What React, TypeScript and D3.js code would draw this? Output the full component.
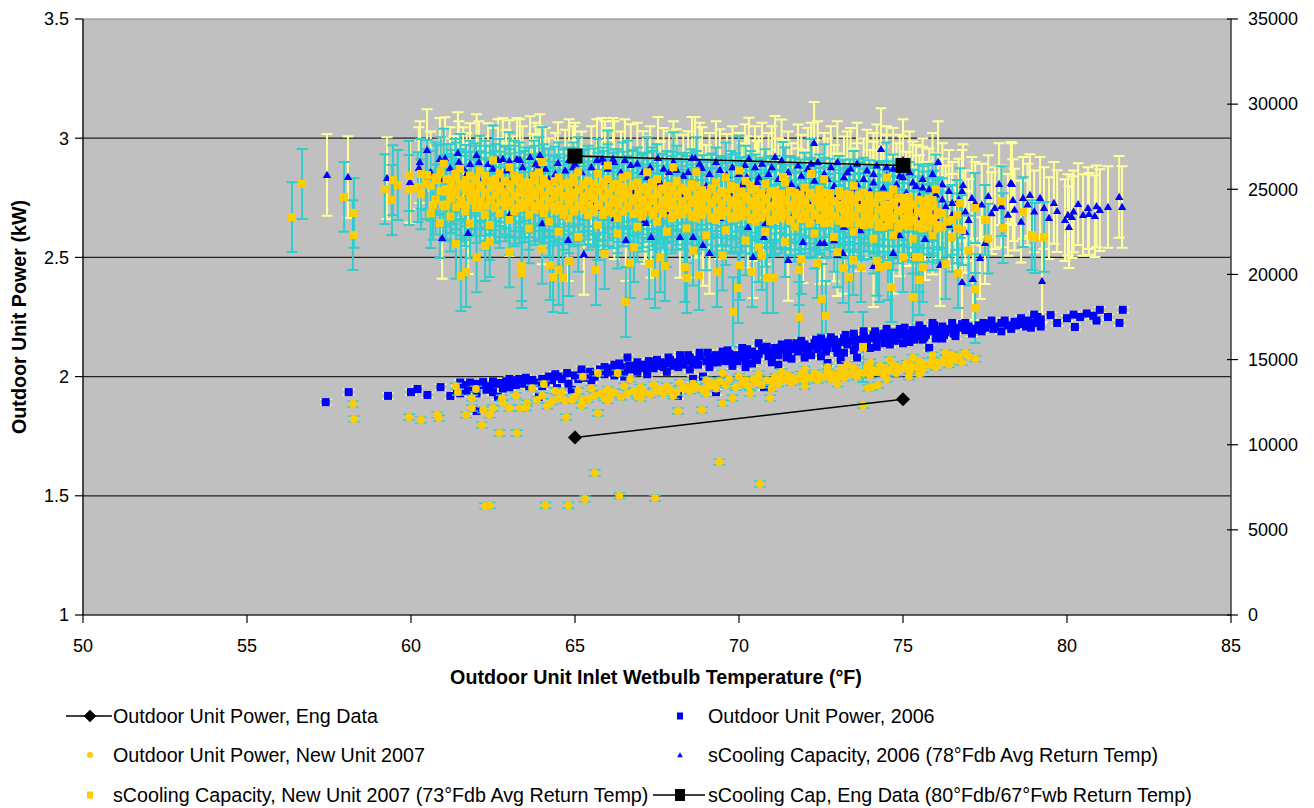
import React, { useEffect, useRef } from 'react';
import * as d3 from 'd3';

// axis ticks
const xTicks = [50, 55, 60, 65, 70, 75, 80, 85];
const yLeftTicks = [1, 1.5, 2, 2.5, 3, 3.5];
const yRightTicks = [0, 5000, 10000, 15000, 20000, 25000, 30000, 35000];
const gridValues = [1.5, 2, 2.5, 3];

// Outdoor Unit Power, Eng Data (kW)
const engPower: [number, number][] = [[65, 1.745], [75, 1.905]];
// sCooling Cap, Eng Data (Btu/h, right axis)
const engCap: [number, number][] = [[65, 26950], [75, 26400]];

// Outdoor Unit Power, 2006 (kW)
const power2006: [number, number][] = [
  [57.4, 1.893], [58.1, 1.935], [59.3, 1.919], [60.0, 1.935], [60.2, 1.948], [60.5, 1.923], [60.9, 1.956], [61.2, 1.919],
  [61.4, 1.95], [61.5, 1.93], [61.6, 1.965], [61.7, 1.94], [61.8, 1.975], [61.9, 1.95], [62.0, 1.93], [62.0, 1.856],
  [62.1, 1.965], [62.2, 1.977], [62.3, 1.945], [62.4, 1.96], [62.5, 1.935], [62.6, 1.97], [62.65, 1.915], [62.7, 1.973],
  [62.8, 1.95], [62.9, 1.98], [63.0, 1.955], [63.1, 1.985], [63.2, 1.965], [63.3, 1.99], [63.4, 1.97], [63.5, 1.98],
  [63.6, 1.96], [63.7, 1.986], [63.8, 1.975], [63.9, 1.915], [64.0, 1.99], [64.1, 1.975], [64.2, 2.0], [64.3, 1.985],
  [64.45, 1.952], [64.5, 2.0], [64.6, 1.99], [64.76, 2.015], [64.9, 1.944], [65.0, 2.005], [65.1, 1.99], [65.2, 2.01],
  [65.3, 1.995], [65.46, 2.02], [65.6, 2.0], [65.76, 2.03], [65.9, 2.01], [66.0, 2.02], [66.1, 2.035], [66.2, 2.005],
  [66.3, 2.025], [66.4, 2.04], [66.5, 2.015], [66.6, 2.08], [66.7, 2.03], [66.8, 2.045], [66.9, 2.02], [67.0, 2.04],
  [67.1, 2.05], [67.2, 2.03], [67.3, 2.055], [67.4, 2.035], [67.5, 2.045], [67.6, 2.06], [67.7, 2.04], [67.8, 2.055],
  [67.9, 2.07], [68.0, 2.045], [68.1, 2.06], [68.14, 1.919], [68.2, 2.075], [68.3, 2.05], [68.4, 2.065], [68.5, 2.08],
  [68.6, 2.055], [68.7, 2.07], [68.8, 2.085], [68.9, 2.0], [69.0, 2.065], [69.1, 2.08], [69.2, 2.06], [69.3, 1.935],
  [69.3, 2.09], [69.4, 2.07], [69.5, 2.085], [69.6, 2.065], [69.7, 2.095], [69.8, 2.075], [69.9, 2.09], [70.0, 2.08],
  [70.1, 2.1], [70.2, 2.07], [70.2, 2.04], [70.3, 2.09], [70.4, 2.105], [70.5, 2.08], [70.6, 2.14], [70.6, 2.095],
  [70.76, 1.956], [70.8, 2.11], [70.9, 2.085], [71.0, 2.1], [71.0, 2.06], [71.1, 2.12], [71.2, 2.09], [71.3, 2.11],
  [71.4, 2.125], [71.5, 2.1], [71.5, 2.14], [71.6, 2.115], [71.7, 2.13], [71.8, 2.105], [71.9, 2.12], [72.0, 2.135],
  [72.0, 2.08], [72.1, 2.11], [72.2, 2.125], [72.3, 2.14], [72.4, 2.115], [72.5, 2.13], [72.5, 2.16], [72.6, 2.145],
  [72.7, 2.057], [72.7, 2.12], [72.8, 2.14], [72.9, 2.155], [73.0, 2.13], [73.0, 2.1], [73.1, 2.07], [73.1, 2.145],
  [73.2, 2.16], [73.3, 2.135], [73.4, 2.15], [73.5, 2.165], [73.5, 2.18], [73.6, 2.14], [73.7, 2.155], [73.8, 2.17],
  [73.9, 2.145], [74.0, 2.16], [74.0, 2.12], [74.1, 2.175], [74.2, 2.15], [74.3, 2.165], [74.4, 2.18], [74.5, 2.155],
  [74.5, 2.2], [74.6, 2.17], [74.7, 2.185], [74.8, 2.16], [74.9, 2.175], [75.0, 2.19], [75.0, 2.14], [75.1, 2.165],
  [75.2, 2.18], [75.3, 2.195], [75.4, 2.17], [75.5, 2.185], [75.5, 2.215], [75.6, 2.2], [75.7, 2.175], [75.8, 2.19],
  [75.9, 2.205], [76.0, 2.18], [76.0, 2.16], [76.1, 2.195], [76.2, 2.21], [76.3, 2.185], [76.4, 2.2], [76.5, 2.215],
  [76.5, 2.225], [76.6, 2.19], [76.7, 2.205], [76.8, 2.22], [76.9, 2.195], [77.0, 2.21], [77.2, 2.2], [77.3, 2.215],
  [77.5, 2.205], [77.6, 2.22], [77.8, 2.21], [78.0, 2.225], [78.2, 2.215], [78.4, 2.23], [78.6, 2.22], [78.8, 2.235],
  [79.0, 2.225], [79.2, 2.24], [79.5, 2.258], [79.7, 2.225], [80.0, 2.245], [80.24, 2.208], [80.4, 2.25], [80.6, 2.265],
  [80.8, 2.255], [81.0, 2.28], [81.25, 2.25], [81.6, 2.225], [81.7, 2.28],
  [61.5, 1.975], [62.0, 1.97], [62.5, 1.98], [63.0, 1.99], [63.5, 1.995], [64.0, 1.96], [64.4, 2.01], [64.8, 1.97],
  [65.2, 2.03], [65.5, 1.985], [65.9, 2.04], [66.2, 2.05], [66.5, 2.0], [66.9, 2.06], [67.2, 2.01], [67.5, 2.07],
  [67.8, 2.02], [68.2, 2.09], [68.5, 2.03], [68.8, 2.1], [69.1, 2.04], [69.5, 2.105], [69.8, 2.045], [70.1, 2.12],
  [70.4, 2.055], [70.7, 2.12], [71.0, 2.08], [71.3, 2.135], [71.6, 2.075], [71.9, 2.15], [72.2, 2.09], [72.5, 2.085],
  [72.8, 2.165], [73.2, 2.1], [73.5, 2.11], [73.8, 2.19], [74.2, 2.125], [74.6, 2.135], [74.9, 2.2], [75.2, 2.145],
  [75.6, 2.155], [75.9, 2.225], [76.2, 2.16], [76.6, 2.17], [76.9, 2.225], [77.1, 2.18], [77.4, 2.19], [77.7, 2.235],
  [78.0, 2.19], [78.3, 2.2], [78.6, 2.245], [78.9, 2.205], [79.2, 2.21], [79.0, 2.26], [80.2, 2.26], [80.9, 2.235],
  [71.2, 2.05], [73.6, 2.08], [75.8, 2.12], [68.6, 1.99],
  [66.05, 2.03], [66.35, 2.055], [66.65, 2.045], [66.95, 2.035], [67.25, 2.065], [67.55, 2.055], [67.85, 2.08], [68.15, 2.04],
  [68.45, 2.09], [68.75, 2.05], [69.05, 2.1], [69.35, 2.06], [69.65, 2.11], [69.95, 2.065], [70.25, 2.115], [70.55, 2.07],
  [70.85, 2.125], [71.15, 2.09], [71.45, 2.08], [71.75, 2.14], [72.05, 2.1], [72.35, 2.155], [72.65, 2.105], [72.95, 2.12],
  [73.25, 2.175], [73.55, 2.125], [73.85, 2.135], [74.15, 2.19], [74.45, 2.14], [74.75, 2.15], [75.05, 2.205], [75.35, 2.155],
  [75.65, 2.165], [75.95, 2.215], [76.25, 2.175], [76.55, 2.18], [76.85, 2.21], [77.15, 2.195], [77.45, 2.225], [77.75, 2.2],
  [78.1, 2.235], [78.45, 2.215], [78.75, 2.21], [79.1, 2.25],
];

// Outdoor Unit Power, New Unit 2007 (kW)
const power2007: [number, number][] = [
  [58.23, 1.885], [58.26, 1.822], [59.94, 1.83], [60.3, 1.818], [60.8, 1.84], [60.85, 1.826], [61.37, 1.96], [61.43, 1.935],
  [61.68, 1.84], [61.86, 1.868], [61.86, 1.91], [61.98, 1.948], [62.16, 1.797], [62.2, 1.86], [62.4, 1.84], [62.5, 1.868],
  [62.7, 1.763], [62.77, 1.91], [63.0, 1.868], [63.23, 1.763], [63.32, 1.868], [63.54, 1.889], [63.69, 1.952], [63.84, 1.902],
  [64.05, 1.969], [64.15, 1.877], [64.73, 1.83], [64.91, 1.902], [65.24, 2.0], [65.24, 1.902], [65.7, 1.847], [65.7, 2.015],
  [66.3, 2.015], [66.68, 1.99], [64.3, 1.895], [64.5, 1.91], [64.7, 1.9], [65.0, 1.915], [65.4, 1.905], [65.6, 1.92],
  [65.9, 1.91], [66.1, 1.925], [66.4, 1.915], [66.6, 1.93], [66.9, 1.92], [67.1, 1.935], [67.3, 1.925], [67.5, 1.94],
  [67.7, 1.93], [67.9, 1.945], [68.1, 1.935], [68.14, 1.856], [68.3, 1.95], [68.5, 1.94], [68.7, 1.955], [68.87, 1.86],
  [68.9, 1.945], [69.1, 1.96], [69.3, 1.95], [69.5, 1.889], [69.5, 2.015], [69.6, 1.965], [69.8, 1.91], [69.9, 1.955],
  [70.0, 2.0], [70.1, 1.97], [70.34, 1.93], [70.3, 1.96], [70.5, 1.975], [70.6, 2.01], [70.7, 1.965], [70.95, 1.91],
  [71.0, 1.98], [71.0, 1.95], [71.2, 1.97], [71.3, 2.02], [71.4, 1.985], [71.6, 1.975], [71.8, 1.99], [72.0, 1.98],
  [72.0, 2.03], [72.0, 1.96], [72.2, 1.995], [72.4, 1.985], [72.6, 2.0], [72.7, 2.04], [72.8, 1.99], [73.0, 2.005],
  [73.0, 1.97], [73.2, 1.995], [73.3, 2.05], [73.4, 2.01], [73.6, 2.0], [73.78, 1.88], [73.8, 2.015], [73.93, 1.952],
  [74.05, 1.956], [74.24, 1.965], [74.0, 2.005], [74.0, 2.06], [74.2, 2.02], [74.4, 2.01], [74.5, 1.99], [74.6, 2.025],
  [74.6, 2.07], [74.8, 2.015], [75.0, 2.035], [75.18, 2.0], [75.2, 2.025], [75.3, 2.08], [75.4, 2.04], [75.5, 2.01],
  [75.6, 2.03], [75.8, 2.05], [75.9, 2.09], [76.0, 2.04], [76.2, 2.06], [76.3, 2.1], [76.4, 2.05], [76.5, 2.09],
  [76.6, 2.07], [76.8, 2.06], [76.9, 2.1], [77.0, 2.085], [77.2, 2.075],
  [64.0, 1.92], [64.6, 1.935], [65.1, 1.94], [65.5, 1.95], [66.0, 1.945], [66.5, 1.96], [67.0, 1.955], [67.4, 1.965],
  [67.8, 1.96], [68.2, 1.975], [68.6, 1.97], [69.0, 1.985], [69.4, 1.98], [69.7, 1.99], [70.2, 1.985], [70.6, 1.995],
  [71.1, 2.0], [71.5, 2.005], [71.9, 2.01], [72.3, 2.015], [72.7, 2.02], [73.1, 2.03], [73.5, 2.035], [73.9, 2.04],
  [74.3, 2.045], [74.7, 2.05], [75.1, 2.055], [75.5, 2.065], [75.9, 2.07], [76.3, 2.08], [76.7, 2.085], [67.0, 1.91],
  [68.0, 1.92], [69.0, 1.93], [66.0, 1.9], [65.2, 1.88], [63.5, 1.87], [62.8, 1.89], [63.2, 1.92], [64.4, 1.94],
  [70.45, 1.99], [70.85, 1.985], [71.25, 1.99], [71.65, 1.995], [72.05, 2.0], [72.45, 2.005], [72.85, 2.01], [73.25, 2.015],
  [73.65, 2.02], [74.05, 2.03], [74.45, 2.035], [74.85, 2.04], [75.25, 2.045], [75.65, 2.05], [76.05, 2.06], [76.45, 2.065],
  [69.2, 1.97], [68.4, 1.955], [67.6, 1.945], [66.8, 1.94], [66.2, 1.935], [65.8, 1.93],
  [65.6, 1.596], [69.4, 1.642], [66.35, 1.5], [67.44, 1.49], [62.26, 1.457], [62.4, 1.46], [64.1, 1.46], [64.8, 1.46],
  [65.3, 1.487], [70.64, 1.55],
];

// sCooling Capacity, 2006 (Btu/h, right axis)
const cap2006: [number, number][] = [
  [57.44, 25840], [58.08, 25720], [59.27, 25660], [59.97, 25430], [60.27, 26600], [60.49, 27300], [60.24, 26250], [60.88, 26780],
  [61.04, 26830], [61.19, 26250], [61.3, 25720], [61.43, 27130], [61.46, 26600], [61.59, 26250], [60.95, 22140], [61.74, 22430],
  [61.8, 26480], [62.0, 27010], [62.07, 26600], [62.35, 26480], [62.68, 25600], [62.65, 26720], [62.8, 26780], [63.0, 26660],
  [63.23, 26780], [63.32, 26720], [63.63, 26890], [63.93, 27010], [63.87, 26300], [63.72, 25840], [64.48, 26540], [64.82, 26720],
  [64.94, 26300], [65.67, 26720], [65.82, 26780], [65.91, 26600], [66.16, 26780], [66.19, 26600], [66.52, 26720], [66.7, 26420],
  [67.07, 26010], [67.53, 26840], [67.29, 26300], [67.87, 26010], [68.1, 26130], [68.45, 26010], [68.57, 26840], [68.66, 26840],
  [68.87, 26250], [69.42, 26130], [69.63, 25840], [70.18, 26420], [70.49, 26300], [70.24, 25720], [70.55, 25430],
  [64.79, 22020], [65.27, 21200], [66.55, 22020], [67.16, 23020], [67.13, 23190], [67.32, 22200], [68.2, 22200], [68.6, 22200],
  [68.9, 21730], [69.1, 21260], [69.42, 23310], [70.43, 21020], [70.27, 22780], [70.43, 23190],
  [62.9, 25300], [63.5, 24700], [64.2, 25600], [65.0, 25100], [65.5, 24300], [66.0, 25500], [66.8, 24900], [67.6, 25400],
  [68.3, 24600], [69.0, 25200], [69.8, 24800], [70.1, 25300], [63.0, 23500], [64.0, 23000], [66.2, 23300], [67.8, 23700],
  [69.5, 23900],
  [70.7, 26500], [70.9, 25900], [71.0, 26300], [71.2, 25600], [71.3, 26700], [71.5, 26000], [71.6, 25300], [71.8, 26400],
  [71.9, 25800], [72.0, 24900], [72.1, 26200], [72.3, 25500], [72.4, 26600], [72.5, 24600], [72.6, 25900], [72.8, 26300],
  [72.9, 25200], [73.0, 26600], [73.1, 24400], [73.2, 25700], [73.4, 26200], [73.5, 25000], [73.6, 26500], [73.7, 24300],
  [73.8, 25600], [73.9, 26100], [74.0, 24900], [74.1, 25400], [74.2, 26400], [74.3, 23900], [74.4, 25100], [74.5, 25800],
  [74.6, 24500], [74.7, 26200], [74.8, 25300], [74.9, 24100], [75.0, 25700], [75.1, 24800], [75.2, 26000], [75.3, 23800],
  [75.4, 25200], [75.5, 24600], [75.6, 25600], [75.7, 24200], [75.8, 25000], [75.9, 23600], [76.0, 24700], [76.2, 25300],
  [76.3, 24000], [76.4, 24900], [76.5, 23500], [76.7, 24400], [76.9, 23700], [77.0, 23200], [76.6, 22700], [75.9, 22400],
  [75.2, 22900], [74.5, 23200], [73.8, 23400], [73.2, 22800], [72.4, 23300], [71.7, 23600], [71.0, 24200], [70.8, 23000],
  [72.29, 27720], [74.33, 27360], [76.07, 26600], [75.0, 26720], [76.83, 25250], [77.93, 25310], [78.32, 25310], [77.1, 24490],
  [77.4, 24100], [77.7, 23600], [78.35, 24370], [78.66, 24490], [78.87, 24660], [79.18, 24490], [77.8, 23900], [78.2, 23500],
  [78.6, 23100], [79.0, 23700], [79.45, 23310], [79.7, 23720], [79.94, 23190], [80.03, 23490], [80.15, 23370], [80.06, 22780],
  [80.34, 24130], [80.49, 23490], [80.64, 23900], [80.67, 23550], [80.85, 23430], [81.0, 23780], [81.25, 23960], [81.59, 24550],
  [81.68, 23960], [78.29, 25370], [79.24, 19610], [76.13, 20550], [76.8, 19550], [77.13, 19730], [77.35, 20960], [77.5, 21840],
  [74.1, 20490], [74.7, 21260], [75.67, 22080], [73.17, 21260], [73.0, 21140], [72.47, 21840], [72.6, 21840], [71.95, 21900],
  [71.5, 20850], [70.76, 22200],
  [60.6, 26000], [61.0, 25600], [61.7, 25900], [62.2, 25700], [62.5, 26200], [62.9, 26100], [63.1, 25700], [63.4, 26300],
  [63.8, 26500], [64.1, 26200], [64.4, 25900], [64.7, 26100], [65.0, 26500], [65.2, 26000], [65.5, 26300], [66.0, 26200],
  [66.4, 26000], [66.9, 26500], [67.2, 25700], [67.7, 26200], [68.0, 26600], [68.3, 25800], [68.8, 26500], [69.1, 25900],
  [69.3, 26600], [69.8, 26300], [70.0, 25900], [70.3, 26800], [70.6, 25700], [71.1, 26900], [71.4, 25500], [71.8, 25000],
  [72.2, 26500], [72.7, 25600], [73.3, 26000], [73.6, 25300], [74.1, 25900], [74.5, 26300], [74.9, 25800], [75.3, 25400],
  [75.6, 25100], [75.9, 25900], [76.2, 24400], [76.5, 24200], [76.8, 24900], [77.2, 24200], [77.6, 24600], [78.0, 24000],
  [78.4, 23800], [78.8, 24100], [79.3, 23900], [79.6, 24200], [80.2, 23700], [80.9, 24000], [71.2, 24500], [71.6, 24000],
  [72.1, 24300], [72.7, 23900], [73.0, 24700], [73.4, 23600], [74.0, 23700], [74.6, 23900], [75.0, 23400], [75.5, 23200],
  [76.0, 23300], [76.4, 22900], [76.9, 22500], [73.7, 22600], [72.9, 22000], [74.9, 22300], [70.5, 24600], [70.9, 24900],
  [61.5, 24000], [62.3, 24600], [64.6, 24800], [65.8, 23900], [67.3, 24200], [68.7, 23400], [69.3, 24500],
];

// sCooling Capacity, New Unit 2007: scattered readings (Btu/h, right axis)
const cap2007Scatter: [number, number][] = [
  [56.37, 23370], [56.68, 25310], [57.96, 24550], [58.26, 23610], [58.23, 22310], [59.2, 25010], [59.45, 25540], [59.6, 25250],
  [59.42, 24370], [59.94, 25780], [59.94, 24960], [60.21, 25130], [60.49, 25840], [60.67, 24080], [60.79, 25540], [60.88, 23020],
  [60.98, 24080], [61.28, 25010], [61.37, 21790], [61.52, 19900], [61.68, 20140], [61.65, 24080], [62.26, 21670], [62.4, 21900],
  [63.38, 20490], [63.38, 20080], [64.24, 20550], [64.33, 19850], [64.5, 20260], [64.63, 19790], [64.82, 20790], [65.64, 20260],
  [66.55, 18380], [66.68, 20670], [67.26, 20610], [67.44, 20080], [67.74, 20490], [68.35, 20430], [68.41, 19790], [68.78, 19960],
  [69.33, 20140], [69.82, 17790], [69.97, 19200], [70.03, 20550], [70.4, 20140], [72.65, 17560], [73.78, 15740], [71.83, 17500],
  [72.53, 18560], [77.2, 18030], [77.2, 19140], [75.3, 18670], [74.63, 19260], [75.4, 21020], [75.0, 21020], [74.54, 20550],
  [74.66, 19260], [75.6, 20430], [75.5, 19670], [76.68, 20080], [73.17, 20370], [73.35, 19850], [71.83, 20260], [72.38, 20670],
  [73.72, 20430], [73.48, 20840], [74.27, 20430], [71.04, 19790], [70.85, 19790], [70.7, 21140],
  [60.3, 24700], [60.3, 25900], [60.6, 23600], [60.6, 25200], [60.9, 24900], [60.9, 26000],
  [61.2, 23400], [61.2, 24500], [61.2, 25600], [61.5, 24100], [61.5, 25300], [61.5, 26200],
  [61.8, 23000], [61.8, 24700], [61.8, 25800], [62.1, 23900], [62.1, 25100], [62.1, 26100],
  [62.4, 22900], [62.4, 24400], [62.4, 25500], [62.7, 23600], [62.7, 24900], [62.7, 25900],
  [63.0, 23200], [63.0, 24200], [63.0, 25300], [63.0, 26300], [63.3, 23900], [63.3, 24800], [63.3, 25700],
  [63.6, 22700], [63.6, 23500], [63.6, 24500], [63.6, 25400], [63.9, 24000], [63.9, 25000], [63.9, 26000],
  [64.2, 23100], [64.2, 24300], [64.2, 25300], [64.5, 22500], [64.5, 23800], [64.5, 24800], [64.5, 25700],
  [64.8, 23300], [64.8, 24400], [64.8, 25400], [65.1, 22200], [65.1, 24000], [65.1, 25000], [65.1, 26000],
  [65.4, 23500], [65.4, 24600], [65.4, 25500], [65.7, 22900], [65.7, 24100], [65.7, 25100], [65.7, 25900],
  [66.0, 23700], [66.0, 24700], [66.0, 25600], [66.3, 22400], [66.3, 23300], [66.3, 24300], [66.3, 25300],
  [66.6, 23900], [66.6, 24900], [66.6, 25800], [66.9, 22800], [66.9, 23600], [66.9, 24500], [66.9, 25400],
  [67.2, 24100], [67.2, 25100], [67.2, 26000], [67.5, 23100], [67.5, 23900], [67.5, 24700], [67.5, 25600],
  [67.8, 22500], [67.8, 24300], [67.8, 25200], [68.1, 23500], [68.1, 24600], [68.1, 25500],
  [68.4, 22700], [68.4, 23900], [68.4, 24900], [68.7, 23300], [68.7, 24200], [68.7, 25200], [68.7, 26000],
  [69.0, 22300], [69.0, 23800], [69.0, 24700], [69.3, 23200], [69.3, 24400], [69.3, 25400],
  [69.6, 22600], [69.6, 23700], [69.6, 24800], [69.6, 25700], [69.9, 23300], [69.9, 24200], [69.9, 25100],
  [70.2, 22000], [70.2, 23700], [70.2, 24600], [70.2, 25500], [70.5, 23100], [70.5, 24100], [70.5, 25000],
  [70.8, 22500], [70.8, 23600], [70.8, 24500], [70.8, 25300], [71.1, 23200], [71.1, 24100], [71.1, 24900],
  [71.4, 21900], [71.4, 23500], [71.4, 24400], [71.4, 25400], [71.7, 22800], [71.7, 23900], [71.7, 24800],
  [72.0, 23300], [72.0, 24200], [72.0, 25100], [72.3, 22400], [72.3, 23600], [72.3, 24500],
  [72.6, 23000], [72.6, 23900], [72.6, 24800], [72.6, 25600], [72.9, 22200], [72.9, 23400], [72.9, 24300],
  [73.2, 23000], [73.2, 23800], [73.2, 24700], [73.5, 22500], [73.5, 23500], [73.5, 24400], [73.5, 25200],
  [73.8, 22900], [73.8, 23900], [73.8, 24800], [74.1, 22100], [74.1, 23300], [74.1, 24200],
  [74.4, 22800], [74.4, 23700], [74.4, 24600], [74.7, 22300], [74.7, 23300], [74.7, 24200], [74.7, 25000],
  [75.0, 22900], [75.0, 23800], [75.0, 24500], [75.3, 22100], [75.3, 23200], [75.3, 24100],
  [75.6, 22700], [75.6, 23600], [75.6, 24300], [75.9, 22300], [75.9, 23300], [75.9, 24000],
  [76.2, 22800], [76.2, 23600], [76.5, 22200], [76.5, 23200], [76.8, 22600],
  [60.45, 25300], [60.75, 24400], [60.75, 25700], [61.05, 25000], [61.05, 24000], [61.35, 24700], [61.35, 25900],
  [61.65, 23700], [61.65, 25100], [61.95, 24300], [61.95, 25500], [62.25, 23500], [62.25, 24700], [62.25, 25800],
  [62.55, 24000], [62.55, 25200], [62.85, 24400], [62.85, 25500], [63.15, 23700], [63.15, 24600], [63.15, 25800],
  [63.45, 24200], [63.45, 25200], [63.75, 24000], [63.75, 24900], [63.75, 25800], [64.05, 23600], [64.05, 24600],
  [64.05, 25600], [64.35, 24000], [64.35, 24900], [64.65, 23500], [64.65, 24600], [64.65, 25300], [64.95, 23800],
  [64.95, 24800], [64.95, 25700], [65.25, 24300], [65.25, 25300], [65.55, 23800], [65.55, 24900], [65.85, 23500],
  [65.85, 24500], [65.85, 25400], [66.15, 24200], [66.15, 25100], [66.45, 23700], [66.45, 24700], [66.45, 25700],
  [66.75, 24300], [66.75, 25200], [67.05, 23400], [67.05, 24200], [67.05, 25000], [67.35, 23700], [67.35, 24500],
  [67.35, 25400], [67.65, 24100], [67.65, 25000], [67.95, 23300], [67.95, 24000], [67.95, 24900], [68.25, 24100],
  [68.25, 25100], [68.55, 23500], [68.55, 24400], [68.55, 25300], [68.85, 23800], [68.85, 24700], [69.15, 23300],
  [69.15, 24200], [69.15, 25000], [69.45, 23800], [69.45, 24800], [69.75, 23400], [69.75, 24300], [69.75, 25200],
  [70.05, 23900], [70.05, 24800], [70.35, 23300], [70.35, 24300], [70.35, 25200], [70.65, 23900], [70.65, 24700],
  [70.95, 23100], [70.95, 24000], [70.95, 24800], [71.25, 23600], [71.25, 24500], [71.55, 23200], [71.55, 24100],
  [71.55, 24900], [71.85, 23500], [71.85, 24400], [72.15, 23000], [72.15, 23900], [72.15, 24700], [72.45, 23300],
  [72.45, 24200], [72.45, 25000], [72.75, 23600], [72.75, 24400], [73.05, 23200], [73.05, 24100], [73.05, 24900],
  [73.35, 23500], [73.35, 24300], [73.65, 23000], [73.65, 23900], [73.65, 24700], [73.95, 23400], [73.95, 24300],
  [74.25, 22800], [74.25, 23800], [74.25, 24600], [74.55, 23200], [74.55, 24100], [74.85, 22700], [74.85, 23700],
  [74.85, 24500], [75.15, 23300], [75.15, 24100], [75.45, 22800], [75.45, 23700], [75.75, 23200], [75.75, 24000],
  [76.05, 22700], [76.05, 23500], [76.35, 23100], [76.65, 22700], [76.65, 23500],
  [62.0, 21000], [63.0, 21300], [64.0, 21500], [65.9, 21200], [66.8, 21600], [67.6, 21000], [68.6, 21400], [69.5, 21100],
  [70.6, 21600], [71.9, 20900], [73.0, 21300], [74.2, 20800], [75.5, 21000], [76.3, 20600], [77.0, 21400], [77.6, 22100],
  [78.05, 22720], [78.66, 23660], [78.93, 22310], [79.02, 22140], [79.3, 22200], [61.0, 26500], [62.5, 26700], [64.0, 26600],
  [66.0, 26400], [68.0, 26300], [70.0, 26100], [71.34, 25720], [72.2, 25900], [74.5, 25700], [75.9, 24370], [76.74, 24190],
  [76.0, 25000], [77.2, 23900], [77.5, 23200], [78.0, 24300],
];

// sCooling Capacity, New Unit 2007: dense core readings
const cap2007Core: [number, number][] = [
  [61.08, 24100], [61.08, 24850], [61.08, 25600], [61.38, 23950], [61.38, 24700], [61.38, 25700], [61.68, 24050], [61.68, 24900],
  [61.68, 25550], [61.98, 23900], [61.98, 24750], [61.98, 25650], [62.28, 24000], [62.28, 24800], [62.28, 25500], [62.58, 23900],
  [62.58, 24650], [62.58, 25600], [62.88, 24000], [62.88, 24750], [62.88, 25450], [63.18, 23850], [63.18, 24600], [63.18, 25500],
  [63.48, 23950], [63.48, 24700], [63.48, 25400], [63.78, 23800], [63.78, 24600], [63.78, 25500], [64.08, 23900], [64.08, 24650],
  [64.08, 25350], [64.38, 23750], [64.38, 24550], [64.38, 25450], [64.68, 23850], [64.68, 24600], [64.68, 25300], [64.98, 23700],
  [64.98, 24500], [64.98, 25400], [65.28, 23800], [65.28, 24550], [65.28, 25250], [65.58, 23650], [65.58, 24450], [65.58, 25350],
  [65.88, 23750], [65.88, 24500], [65.88, 25200], [66.18, 23600], [66.18, 24400], [66.18, 25300], [66.48, 23700], [66.48, 24450],
  [66.48, 25150], [66.78, 23550], [66.78, 24350], [66.78, 25250], [67.08, 23650], [67.08, 24400], [67.08, 25100], [67.38, 23500],
  [67.38, 24300], [67.38, 25200], [67.68, 23600], [67.68, 24350], [67.68, 25050], [67.98, 23450], [67.98, 24250], [67.98, 25150],
  [68.28, 23550], [68.28, 24300], [68.28, 25000], [68.58, 23400], [68.58, 24200], [68.58, 25100], [68.88, 23500], [68.88, 24250],
  [68.88, 24950], [69.18, 23350], [69.18, 24150], [69.18, 25050], [69.48, 23450], [69.48, 24200], [69.48, 24900], [69.78, 23300],
  [69.78, 24100], [69.78, 25000], [70.08, 23400], [70.08, 24150], [70.08, 24850], [70.38, 23250], [70.38, 24050], [70.38, 24950],
  [70.68, 23350], [70.68, 24100], [70.68, 24800], [70.98, 23200], [70.98, 24000], [70.98, 24900], [71.28, 23300], [71.28, 24050],
  [71.28, 24750], [71.58, 23150], [71.58, 23950], [71.58, 24850], [71.88, 23250], [71.88, 24000], [71.88, 24700], [72.18, 23100],
  [72.18, 23900], [72.18, 24800], [72.48, 23200], [72.48, 23950], [72.48, 24650], [72.78, 23050], [72.78, 23850], [72.78, 24750],
  [73.08, 23150], [73.08, 23900], [73.08, 24600], [73.38, 23000], [73.38, 23800], [73.38, 24700], [73.68, 23100], [73.68, 23850],
  [73.68, 24550], [73.98, 22950], [73.98, 23750], [73.98, 24650], [74.28, 23050], [74.28, 23800], [74.28, 24500], [74.58, 22900],
  [74.58, 23700], [74.58, 24600], [74.88, 23000], [74.88, 23750], [74.88, 24450], [75.18, 22850], [75.18, 23650], [75.18, 24550],
  [75.48, 22950], [75.48, 23700], [75.48, 24400], [75.78, 22800], [75.78, 23600], [75.78, 24450], [76.08, 22900], [76.08, 23650],
  [61.23, 24450], [61.23, 25250], [61.53, 24350], [61.53, 25200], [61.83, 24400], [61.83, 25150], [62.13, 24300], [62.13, 25200],
  [62.43, 24350], [62.43, 25100], [62.73, 24250], [62.73, 25150], [63.03, 24300], [63.03, 25050], [63.33, 24200], [63.33, 25100],
  [63.63, 24250], [63.63, 25000], [63.93, 24150], [63.93, 25050], [64.23, 24200], [64.23, 24950], [64.53, 24100], [64.53, 25000],
  [64.83, 24150], [64.83, 24900], [65.13, 24050], [65.13, 24950], [65.43, 24100], [65.43, 24850], [65.73, 24000], [65.73, 24900],
  [66.03, 24050], [66.03, 24800], [66.33, 23950], [66.33, 24850], [66.63, 24000], [66.63, 24750], [66.93, 23900], [66.93, 24800],
  [67.23, 23950], [67.23, 24700], [67.53, 23850], [67.53, 24750], [67.83, 23900], [67.83, 24650], [68.13, 23800], [68.13, 24700],
  [68.43, 23850], [68.43, 24600], [68.73, 23750], [68.73, 24650], [69.03, 23800], [69.03, 24550], [69.33, 23700], [69.33, 24600],
  [69.63, 23750], [69.63, 24500], [69.93, 23650], [69.93, 24550], [70.23, 23700], [70.23, 24450], [70.53, 23600], [70.53, 24500],
  [70.83, 23650], [70.83, 24400], [71.13, 23550], [71.13, 24450], [71.43, 23600], [71.43, 24350], [71.73, 23500], [71.73, 24400],
  [72.03, 23550], [72.03, 24300], [72.33, 23450], [72.33, 24350], [72.63, 23500], [72.63, 24250], [72.93, 23400], [72.93, 24300],
  [73.23, 23450], [73.23, 24200], [73.53, 23350], [73.53, 24250], [73.83, 23400], [73.83, 24150], [74.13, 23300], [74.13, 24200],
  [74.43, 23350], [74.43, 24100], [74.73, 23250], [74.73, 24150], [75.03, 23300], [75.03, 24050], [75.33, 23200], [75.33, 24100],
  [75.63, 23250], [75.63, 24000], [75.93, 23150], [75.93, 24050],
];

const cap2007: [number, number][] = [...cap2007Scatter, ...cap2007Core];

// error bar half-lengths
const capErr2007 = 2050;
const capErr2006 = 2400;
const powerErr = 0.012;

const legendItems = [
  { label: 'Outdoor Unit Power, Eng Data', kind: 'diamondLine', col: 0, row: 0 },
  { label: 'Outdoor Unit Power, 2006', kind: 'blueSquare', col: 1, row: 0 },
  { label: 'Outdoor Unit Power, New Unit 2007', kind: 'circle', col: 0, row: 1 },
  { label: 'sCooling Capacity, 2006 (78°Fdb Avg Return Temp)', kind: 'triangle', col: 1, row: 1 },
  { label: 'sCooling Capacity, New Unit 2007 (73°Fdb Avg Return Temp)', kind: 'yellowSquare', col: 0, row: 2 },
  { label: 'sCooling Cap, Eng Data (80°Fdb/67°Fwb Return Temp)', kind: 'squareLine', col: 1, row: 2 },
];

const BLUE = '#0000FF';
const GOLD = '#FFCC00';
const CYAN = '#33CCCC';
const PALE = '#FFFF99';
const FONT = '"Liberation Sans", Arial, sans-serif';

const App = () => {
  const svgRef = useRef<SVGSVGElement>(null);

  useEffect(() => {
    const svg = d3.select(svgRef.current);
    svg.selectAll('*').remove();

    const left = 83, right = 1231, top = 19, bottom = 615;
    const x = d3.scaleLinear().domain([50, 85]).range([left, right]);
    const yL = d3.scaleLinear().domain([1, 3.5]).range([bottom, top]);
    const yR = d3.scaleLinear().domain([0, 35000]).range([bottom, top]);

    svg.append('defs').append('clipPath').attr('id', 'plotclip')
      .append('rect').attr('x', left).attr('y', top).attr('width', right - left).attr('height', bottom - top);

    // plot area
    svg.append('rect')
      .attr('x', left).attr('y', top).attr('width', right - left).attr('height', bottom - top)
      .attr('fill', '#C0C0C0').attr('stroke', '#808080').attr('stroke-width', 1);

    // gridlines
    svg.append('g').selectAll('line').data(gridValues).join('line')
      .attr('x1', left).attr('x2', right)
      .attr('y1', d => yL(d)).attr('y2', d => yL(d))
      .attr('stroke', '#222').attr('stroke-width', 1.3);

    const plot = svg.append('g').attr('clip-path', 'url(#plotclip)');

    const errBars = (data: [number, number][], ys: any, err: number, color: string, cap: number, sw: number) => {
      plot.append('g').selectAll('path').data(data).join('path')
        .attr('d', d => {
          const px = x(d[0]);
          const y1 = ys(d[1] - err), y2 = ys(d[1] + err);
          return `M${px},${y1}V${y2}M${px - cap},${y1}h${2 * cap}M${px - cap},${y2}h${2 * cap}`;
        })
        .attr('fill', 'none').attr('stroke', color).attr('stroke-width', sw);
    };

    // error bars of the capacity series
    errBars(cap2006, yR, capErr2006, PALE, 5.5, 2);
    errBars(cap2007, yR, capErr2007, CYAN, 5.5, 2);

    // power 2006: blue squares with tiny pale bars
    errBars(power2006, yL, powerErr, PALE, 6, 1.4);
    plot.append('g').selectAll('rect').data(power2006).join('rect')
      .attr('x', d => x(d[0]) - 4).attr('y', d => yL(d[1]) - 4)
      .attr('width', 8).attr('height', 8).attr('fill', BLUE);

    // power 2007: gold circles with tiny cyan bars
    errBars(power2007, yL, powerErr, CYAN, 6, 1.4);
    plot.append('g').selectAll('circle').data(power2007).join('circle')
      .attr('cx', d => x(d[0])).attr('cy', d => yL(d[1])).attr('r', 3.9).attr('fill', GOLD);

    // capacity 2006: blue triangles
    const tri = d3.symbol().type(d3.symbolTriangle).size(30);
    plot.append('g').selectAll('path').data(cap2006).join('path')
      .attr('d', tri as any)
      .attr('transform', d => `translate(${x(d[0])},${yR(d[1]) + 0.6})`)
      .attr('fill', BLUE);

    // capacity 2007: gold squares
    plot.append('g').selectAll('rect').data(cap2007).join('rect')
      .attr('x', d => x(d[0]) - 4).attr('y', d => yR(d[1]) - 4)
      .attr('width', 8).attr('height', 8).attr('fill', GOLD);

    // eng data lines
    const lineL = d3.line<[number, number]>().x(d => x(d[0])).y(d => yL(d[1]));
    const lineR = d3.line<[number, number]>().x(d => x(d[0])).y(d => yR(d[1]));
    plot.append('path').attr('d', lineL(engPower)).attr('fill', 'none').attr('stroke', '#000').attr('stroke-width', 1.5);
    plot.append('path').attr('d', lineR(engCap)).attr('fill', 'none').attr('stroke', '#000').attr('stroke-width', 1.5);
    plot.append('g').selectAll('rect').data(engPower).join('rect')
      .attr('x', d => x(d[0]) - 5).attr('y', d => yL(d[1]) - 5).attr('width', 10).attr('height', 10)
      .attr('transform', d => `rotate(45,${x(d[0])},${yL(d[1])})`).attr('fill', '#000');
    plot.append('g').selectAll('rect').data(engCap).join('rect')
      .attr('x', d => x(d[0]) - 7.5).attr('y', d => yR(d[1]) - 7.5).attr('width', 15).attr('height', 15)
      .attr('fill', '#000');

    // axes lines
    svg.append('line').attr('x1', left).attr('x2', left).attr('y1', top).attr('y2', bottom).attr('stroke', '#000').attr('stroke-width', 1.2);
    svg.append('line').attr('x1', right).attr('x2', right).attr('y1', top).attr('y2', bottom).attr('stroke', '#333').attr('stroke-width', 1.2);
    svg.append('line').attr('x1', left).attr('x2', right).attr('y1', bottom).attr('y2', bottom).attr('stroke', '#000').attr('stroke-width', 1.2);

    const tickStyle = (s: any) => s.attr('stroke', '#000').attr('stroke-width', 1.2);

    // left ticks
    const gl = svg.append('g');
    gl.selectAll('line').data(yLeftTicks).join('line')
      .attr('x1', left - 8).attr('x2', left).attr('y1', d => yL(d)).attr('y2', d => yL(d)).call(tickStyle);
    gl.selectAll('text').data(yLeftTicks).join('text')
      .attr('x', left - 14).attr('y', d => yL(d)).attr('dy', '0.35em')
      .attr('text-anchor', 'end').attr('font-family', FONT).attr('font-size', 18)
      .text(d => d3.format('')(d));

    // right ticks
    const gr = svg.append('g');
    gr.selectAll('line').data(yRightTicks).join('line')
      .attr('x1', right - 4).attr('x2', right + 7).attr('y1', d => yR(d)).attr('y2', d => yR(d)).call(tickStyle);
    gr.selectAll('text').data(yRightTicks).join('text')
      .attr('x', right + 17).attr('y', d => yR(d)).attr('dy', '0.35em')
      .attr('text-anchor', 'start').attr('font-family', FONT).attr('font-size', 18)
      .text(d => String(d));

    // bottom ticks
    const gb = svg.append('g');
    gb.selectAll('line').data(xTicks).join('line')
      .attr('x1', d => x(d)).attr('x2', d => x(d)).attr('y1', bottom).attr('y2', bottom + 8).call(tickStyle);
    gb.selectAll('text').data(xTicks).join('text')
      .attr('x', d => x(d)).attr('y', bottom + 31).attr('dy', '0.35em')
      .attr('text-anchor', 'middle').attr('font-family', FONT).attr('font-size', 18)
      .text(d => String(d));

    // axis titles
    svg.append('text')
      .attr('x', (left + right) / 2 - 1).attr('y', 677).attr('dy', '0.35em')
      .attr('text-anchor', 'middle').attr('font-family', FONT).attr('font-size', 19.7).attr('font-weight', 'bold')
      .text('Outdoor Unit Inlet Wetbulb Temperature (°F)');
    svg.append('text')
      .attr('transform', `translate(19,${(top + bottom) / 2}) rotate(-90)`).attr('dy', '0.35em')
      .attr('text-anchor', 'middle').attr('font-family', FONT).attr('font-size', 19.7).attr('font-weight', 'bold')
      .text('Outdoor Unit Power (kW)');

    // legend
    const colX = [90, 680];
    const rowY = [716, 755, 795];
    const lg = svg.append('g');
    legendItems.forEach(it => {
      const cx = colX[it.col], cy = rowY[it.row];
      const g = lg.append('g');
      if (it.kind === 'diamondLine') {
        g.append('line').attr('x1', cx - 24).attr('x2', cx + 22).attr('y1', cy).attr('y2', cy).attr('stroke', '#000').attr('stroke-width', 1.5);
        g.append('rect').attr('x', cx - 4.5).attr('y', cy - 4.5).attr('width', 9).attr('height', 9)
          .attr('transform', `rotate(45,${cx},${cy})`).attr('fill', '#000');
      } else if (it.kind === 'squareLine') {
        g.append('line').attr('x1', cx - 27).attr('x2', cx + 25).attr('y1', cy).attr('y2', cy).attr('stroke', '#000').attr('stroke-width', 1.5);
        g.append('rect').attr('x', cx - 5).attr('y', cy - 6).attr('width', 10).attr('height', 12).attr('fill', '#000');
      } else if (it.kind === 'blueSquare') {
        g.append('rect').attr('x', cx - 3).attr('y', cy - 3.5).attr('width', 6).attr('height', 7).attr('fill', BLUE);
      } else if (it.kind === 'yellowSquare') {
        g.append('rect').attr('x', cx - 3).attr('y', cy - 3.5).attr('width', 6).attr('height', 7).attr('fill', GOLD);
      } else if (it.kind === 'circle') {
        g.append('circle').attr('cx', cx).attr('cy', cy).attr('r', 3).attr('fill', GOLD);
      } else if (it.kind === 'triangle') {
        g.append('path').attr('d', d3.symbol().type(d3.symbolTriangle).size(14)() as string)
          .attr('transform', `translate(${cx},${cy + 0.5})`).attr('fill', BLUE);
      }
      g.append('text')
        .attr('x', it.col === 0 ? 113 : 708).attr('y', cy).attr('dy', '0.35em')
        .attr('font-family', FONT).attr('font-size', 19.7)
        .text(it.label);
    });
  }, []);

  return (
    <svg ref={svgRef} width={1314} height={808}
      style={{ position: 'absolute', left: 0, top: 0, background: '#fff' }} />
  );
};

export default App;
